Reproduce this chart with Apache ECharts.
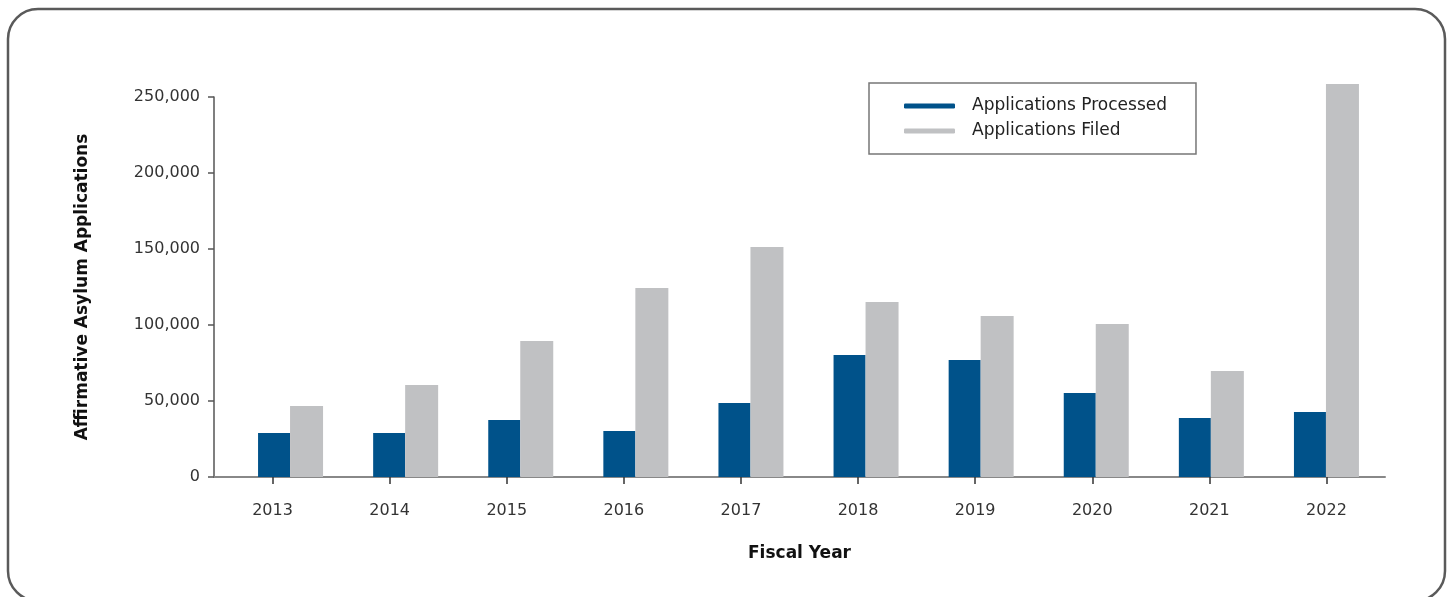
<!DOCTYPE html>
<html>
<head>
<meta charset="utf-8">
<script src="https://cdn.jsdelivr.net/npm/echarts@6/dist/echarts.min.js"></script>
<style>
  html, body { margin: 0; padding: 0; background: #fff; }
  #chart { width: 1450px; height: 597px; }
</style>
</head>
<body>
<div id="chart"></div>
<script>
  var years = ['2013', '2014', '2015', '2016', '2017', '2018', '2019', '2020', '2021', '2022'];
  var processed = [29000, 29000, 37500, 30300, 48700, 80300, 77000, 55300, 38800, 42800];
  var filed = [46700, 60500, 89500, 124300, 151300, 115100, 105900, 100700, 69700, 258600];
  var yTicks = [0, 50000, 100000, 150000, 200000, 250000];

  var blue = '#00528A';
  var grey = '#C0C1C3';
  var font = 'DejaVu Sans';

  var myChart = echarts.init(document.getElementById('chart'));

  var option = {
    animation: false,
    backgroundColor: '#fff',
    graphic: [
      {
        type: 'rect',
        shape: { x: 8, y: 9, width: 1437, height: 592, r: 30 },
        style: { fill: 'none', stroke: '#5a5a5a', lineWidth: 2.5 },
        silent: true
      }
    ],
    legend: {
      orient: 'vertical',
      left: 869,
      top: 83,
      padding: [14, 29, 14, 35],
      itemGap: 7,
      itemWidth: 51,
      itemHeight: 5,
      icon: 'roundRect',
      borderColor: '#777',
      borderWidth: 1.5,
      textStyle: { fontFamily: font, fontSize: 17, color: '#222', lineHeight: 18, padding: [0, 0, 0, 12] },
      data: ['Applications Processed', 'Applications Filed']
    },
    // grid 0 carries the visible axes, grid 1 places the bars (they sit slightly off the ticks)
    grid: [
      { left: 214, right: 65, top: 97, bottom: 120 },
      { left: 233, right: 66, top: 97, bottom: 120 }
    ],
    xAxis: [
      {
        type: 'category',
        gridIndex: 0,
        data: years,
        name: 'Fiscal Year',
        nameLocation: 'middle',
        nameGap: 68,
        nameTextStyle: { fontFamily: font, fontSize: 17, fontWeight: 'bold', color: '#111' },
        axisLine: { lineStyle: { color: '#888', width: 2 } },
        axisTick: { show: true, alignWithLabel: true, length: 7, lineStyle: { color: '#333', width: 1.5 } },
        axisLabel: { fontFamily: font, fontSize: 16, color: '#333', margin: 26 },
        splitLine: { show: false }
      },
      {
        type: 'category',
        gridIndex: 1,
        data: years,
        show: false
      }
    ],
    yAxis: [
      {
        type: 'value',
        gridIndex: 0,
        min: yTicks[0],
        max: yTicks[yTicks.length - 1],
        interval: yTicks[1] - yTicks[0],
        name: 'Affirmative Asylum Applications',
        nameLocation: 'middle',
        nameGap: 123,
        nameRotate: 90,
        nameTextStyle: { fontFamily: font, fontSize: 17, fontWeight: 'bold', color: '#111' },
        axisLine: { show: true, lineStyle: { color: '#555', width: 1.5 } },
        axisTick: { show: true, length: 6, lineStyle: { color: '#555', width: 1.5 } },
        axisLabel: {
          fontFamily: font, fontSize: 16, color: '#333', margin: 14,
          formatter: function (v) { return v.toLocaleString('en-US'); }
        },
        splitLine: { show: false }
      },
      {
        type: 'value',
        gridIndex: 1,
        min: yTicks[0],
        max: yTicks[yTicks.length - 1],
        interval: yTicks[1] - yTicks[0],
        show: false,
        splitLine: { show: false }
      }
    ],
    series: [
      {
        name: 'Applications Processed',
        type: 'bar',
        xAxisIndex: 1,
        yAxisIndex: 1,
        barWidth: 32,
        barGap: '0%',
        clip: false,
        itemStyle: { color: blue },
        data: processed
      },
      {
        name: 'Applications Filed',
        type: 'bar',
        xAxisIndex: 1,
        yAxisIndex: 1,
        barWidth: 33,
        barGap: '0%',
        clip: false,
        itemStyle: { color: grey },
        data: filed
      }
    ]
  };

  myChart.setOption(option);
  window.addEventListener('resize', function () {
    myChart.resize();
  });
</script>
</body>
</html>
